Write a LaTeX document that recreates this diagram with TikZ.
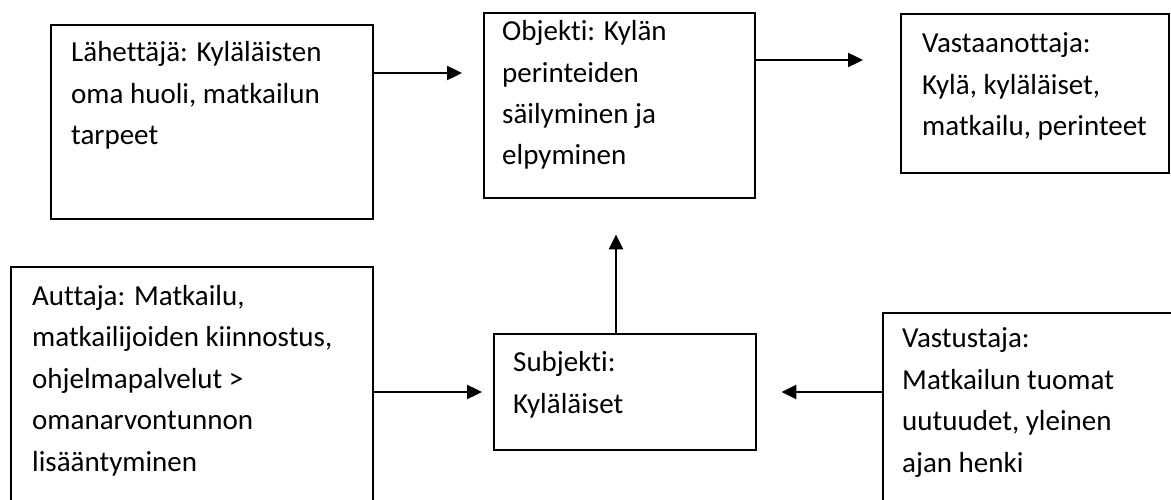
\documentclass[tikz,border=0pt]{standalone}
\usepackage{fontspec}
\setmainfont[Ligatures={NoCommon,NoContextual}, Contextuals=NoAlternate]{Carlito}
\usepackage{tikz}
\usetikzlibrary{arrows.meta,calc}
\tikzset{every node/.style={align=left}, >= {Triangle[length=15pt,width=14pt]},
  box/.style={draw, line width=2.4pt, rectangle, inner sep=0pt, anchor=north west},
  txt/.style={inner sep=0pt, anchor=base west, font=\fontsize{29}{41.5}\selectfont},
  link/.style={->, line width=2.4pt}}

\begin{document}
\begin{tikzpicture}[x=1pt, y=-1pt]
            \useasboundingbox (0,0) rectangle (1171,500);
            % boxes
            \node [box, minimum width=322pt, minimum height=194pt] (lah) at (50,24) {};
            \node [box, minimum width=271pt, minimum height=185pt] (obj) at (483,12) {};
            \node [box, minimum width=268pt, minimum height=159pt] (vast) at (900,13) {};
            \node [box, minimum width=362pt, minimum height=250pt] (aut) at (10,266) {};
            \node [box, minimum width=262pt, minimum height=116pt] (sub) at (493,333) {};
            \node [box, minimum width=300pt, minimum height=200pt] (vastus) at (882,312) {};
            % texts (placed at baseline of last line)
            \node [txt] (lah-t) at ($(lah.north west)+(21,121)$) {Lähettäjä: Kyläläisten\\oma huoli, matkailun\\tarpeet};
            \node [txt] (obj-t) at ($(obj.north west)+(19,153)$) {Objekti: Kylän\\perinteiden\\säilyminen ja\\elpyminen};
            \node [txt] (vast-t) at ($(vast.north west)+(22,123)$) {Vastaanottaja:\\Kylä, kyläläiset,\\matkailu, perinteet};
            \node [txt] (aut-t) at ($(aut.north west)+(22,205)$) {Auttaja: Matkailu,\\matkailijoiden kiinnostus,\\ohjelmapalvelut >\\omanarvontunnon\\lisääntyminen};
            \node [txt] (sub-t) at ($(sub.north west)+(20,80)$) {Subjekti:\\Kyläläiset};
            \node [txt] (vastus-t) at ($(vastus.north west)+(20,160)$) {Vastustaja:\\Matkailun tuomat\\uutuudet, yleinen\\ajan henki};
            % arrows
            \draw [link, shorten >=21pt] ($(lah.north east)+(0,49)$) -- ($(obj.north west)+(0,61)$);
            \draw [link, shorten >=37pt] ($(obj.north east)+(0,48)$) -- ($(vast.north west)+(0,47)$);
            \draw [link, shorten >=35pt] ($(sub.north west)+(123,0)$) -- ($(obj.south west)+(133,0)$);
            \draw [link, shorten >=11pt] ($(aut.north east)+(0,126)$) -- ($(sub.north west)+(0,59)$);
            \draw [link, shorten >=24pt] ($(vastus.north west)+(0,80)$) -- ($(sub.north east)+(0,59)$);
        \end{tikzpicture}
\end{document}
